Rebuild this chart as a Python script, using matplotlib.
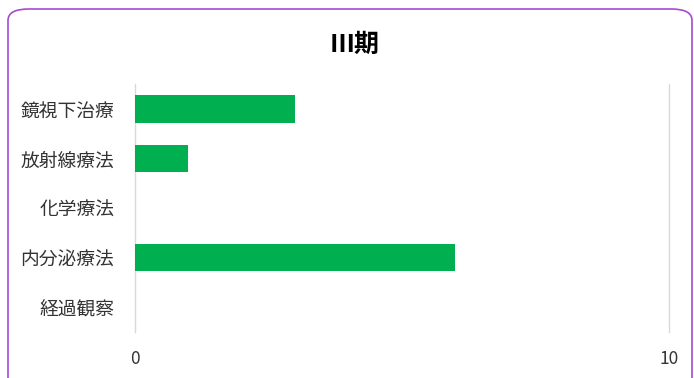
import matplotlib
matplotlib.use("Agg")
import matplotlib.pyplot as plt
from matplotlib.patches import FancyBboxPatch

plt.rcParams['font.family'] = ['Noto Sans CJK JP', 'DejaVu Sans']

title = "Ⅲ期"
categories = ["鏡視下治療", "放射線療法", "化学療法", "内分泌療法", "経過観察"]
values = [3, 1, 0, 6, 0]
xticks = [0, 10]

W, H = 694, 378
fig = plt.figure(figsize=(W / 100, H / 100), dpi=100)

border = FancyBboxPatch((8 / W, -20 / H), (W - 10) / W, (H + 20 - 9) / H,
                        boxstyle="round,pad=0,rounding_size=0.03",
                        transform=fig.transFigure, facecolor="white",
                        edgecolor="#a64ad6", linewidth=1.2, zorder=-10)
fig.patches.append(border)

ax = fig.add_axes([135 / W, 1 - 332 / H, (669 - 135) / W, (332 - 84) / H])
ax.set_zorder(5)
ax.set_facecolor("none")
ypos = list(range(len(categories)))
ax.barh(ypos, values, height=0.56, color="#00b050", zorder=3)
ax.set_ylim(len(categories) - 0.5, -0.5)
ax.set_xlim(0, 10)
ax.set_yticks(ypos)
ax.set_yticklabels(categories, fontsize=13.5, color="#333333")
ax.set_xticks(xticks)
ax.set_xticklabels([str(t) for t in xticks], fontsize=12.5, color="#333333")
ax.tick_params(axis="both", length=0)
ax.tick_params(axis="y", pad=15)
ax.tick_params(axis="x", pad=13)
for s in ax.spines.values():
    s.set_visible(False)
ax.grid(axis="x", color="#d9d9d9", linewidth=1, zorder=0)
for gl in ax.get_xgridlines():
    gl.set_clip_on(False)
ax.grid(axis="y", visible=False)

fig.text(355 / W, 1 - 45 / H, title, fontsize=18, fontweight="bold",
         ha="center", va="center", color="#000000", zorder=6)

fig.savefig("out.png", dpi=100)
